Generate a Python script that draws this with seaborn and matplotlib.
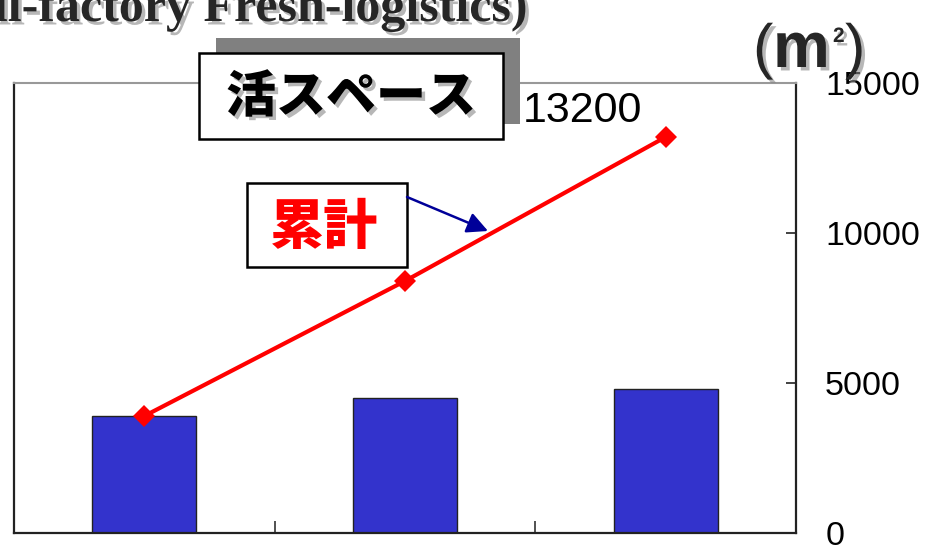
import matplotlib
matplotlib.use("Agg")
import matplotlib.pyplot as plt
import matplotlib.patheffects as pe
from matplotlib.patches import Rectangle, FancyArrowPatch
import numpy as np
import pandas as pd
import seaborn as sns

# Yearly added space and running total (m²)
periods = ["1", "2", "3"]
added_space = [3900, 4500, 4800]
cumulative = [3900, 8400, 13200]
y_ticks = [0, 5000, 10000, 15000]

title_text = "(Small-factory Fresh-logistics)"
box_label = "活スペース"
line_label = "累計"

sns.set_theme(style="white")
plt.rcParams["font.family"] = ["Liberation Sans", "DejaVu Sans"]

W, H = 929, 545
fig = plt.figure(figsize=(W / 100, H / 100), dpi=100)
fig.patch.set_facecolor("white")

ax = fig.add_axes([14 / W, 1 - 533 / H, (796 - 14) / W, (533 - 83) / H])
df = pd.DataFrame({"period": periods, "space": added_space})
sns.barplot(data=df, x="period", y="space", color="#3333CC", saturation=1,
            width=0.40, edgecolor="#222222", linewidth=1.0, ax=ax, zorder=2)
ax.plot(range(len(periods)), cumulative, color="#FF0000", lw=3.0,
        marker="D", markersize=11, markeredgewidth=0, zorder=4, clip_on=False)

ax.set_xlim(-0.5, len(periods) - 0.5)
ax.set_ylim(0, 15000)
ax.set_xlabel("")
ax.set_ylabel("")
ax.yaxis.tick_right()
ax.set_yticks(y_ticks)
ax.set_yticklabels([str(v) for v in y_ticks], fontsize=24.5)
ax.tick_params(axis="y", direction="in", length=7, width=1.2, colors="#222222",
               labelcolor="black", pad=21, right=True, left=False)
ax.set_xticks([0.5, 1.5])
ax.set_xticklabels([])
ax.tick_params(axis="x", direction="in", length=9, width=1.2, colors="#333333",
               bottom=True)
for side in ["left", "right", "bottom"]:
    ax.spines[side].set_color("#222222")
    ax.spines[side].set_linewidth(1.6)
ax.spines["top"].set_color("#999999")
ax.spines["top"].set_linewidth(1.5)
for s in ax.spines.values():
    s.set_visible(True)

ax.annotate(f"{cumulative[-1]}", xy=(len(periods) - 1, cumulative[-1]),
            xytext=(-83, 26), textcoords="offset pixels",
            ha="center", va="center", fontsize=31, color="black", zorder=6)

# Overlay in pixel coordinates for the callouts and headings
ov = fig.add_axes([0, 0, 1, 1], zorder=5)
ov.set_xlim(0, W)
ov.set_ylim(H, 0)
ov.axis("off")
ov.patch.set_alpha(0)

shadow = [pe.SimplePatchShadow(offset=(2.5, -2.5), shadow_rgbFace="#888888", alpha=0.6),
          pe.Normal()]

ov.text(528, 21, title_text, ha="right", va="baseline", fontsize=36,
        fontweight="bold", family=["Liberation Serif", "DejaVu Serif"],
        path_effects=shadow)

# Heading box with drop shadow
ov.add_patch(Rectangle((216, 38), 304, 86, facecolor="#808080", edgecolor="none"))
ov.add_patch(Rectangle((199, 53), 304, 86, facecolor="white", edgecolor="black", lw=1.8))
ov.text(351, 97, box_label, ha="center", va="center", fontsize=36,
        fontweight="heavy", family=["Noto Sans CJK JP", "DejaVu Sans"],
        color="black", path_effects=shadow)

# Callout for the running total
ov.add_patch(Rectangle((247, 183), 160, 84, facecolor="white", edgecolor="black", lw=1.8))
ov.text(324, 228, line_label, ha="center", va="center", fontsize=39,
        fontweight="heavy", family=["Noto Sans CJK JP", "DejaVu Sans"],
        color="#FF0000")
ov.add_patch(FancyArrowPatch((407, 197), (488, 231), arrowstyle="-|>,head_length=9,head_width=4.5",
                             color="#000099", lw=1.8, mutation_scale=1.4,
                             shrinkA=0, shrinkB=0))

# Unit label (m²)
ov.text(753, 67, "(", ha="left", va="baseline", fontsize=44, path_effects=shadow)
ov.text(773, 67, "m", ha="left", va="baseline", fontsize=46, fontweight="bold",
        path_effects=shadow)
ov.text(833, 42, "2", ha="left", va="baseline", fontsize=15, fontweight="bold",
        path_effects=shadow)
ov.text(845, 67, ")", ha="left", va="baseline", fontsize=44, path_effects=shadow)

fig.savefig("out.png", dpi=100)
